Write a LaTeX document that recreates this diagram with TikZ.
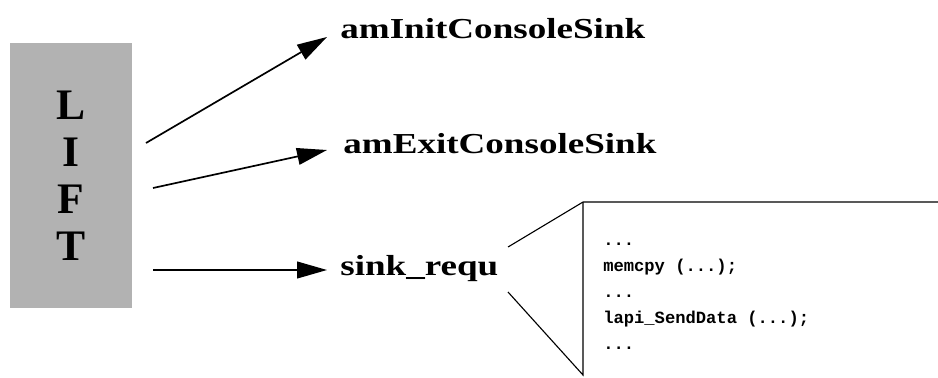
\documentclass[tikz,border=0pt]{standalone}
\usepackage{fontspec}
\setmainfont{Liberation Serif}
\setmonofont{Liberation Mono}
\usetikzlibrary{arrows.meta}
\tikzset{
	liftbox/.style={fill=black!30, minimum width=3.05cm, minimum height=6.625cm, inner sep=0pt, align=center, font=\fontsize{31}{33.4}\selectfont\bfseries},
	fname/.style={anchor=base west, inner sep=0pt, xscale=1.28, font=\fontsize{20.6}{24}\selectfont\bfseries},
	codeline/.style={anchor=base west, inner sep=0pt, font=\fontsize{12.2}{14}\selectfont\ttfamily\bfseries},
	call/.style={line width=1.2pt, -{Triangle[length=0.75cm,width=0.42cm]}},
}

\begin{document}
\begin{tikzpicture}
			%%%%% START %%%%%
			\useasboundingbox (0, 0) rectangle (23.45, 9.425);
			
			\node[liftbox] (lift) at (1.775, 5.04) {L\\I\\F\\T};
			
			\node[fname] (init) at (8.5, 8.475) {amInitConsoleSink};
			\node[fname] (exit) at (8.575, 5.6) {amExitConsoleSink};
			\node[fname] (sink) at (8.5, 2.55) {sink\_requ};
			
			\coordinate (s1) at (3.65, 5.85);
			\coordinate (s2) at (3.825, 4.725);
			\coordinate (s3) at (3.825, 2.675);
			\draw[call] (s1) -- ([xshift=-0.325cm, yshift=0.025cm]init.base west);
			\draw[call] (s2) -- ([xshift=-0.4cm, yshift=0.075cm]exit.base west);
			\draw[call] (s3) -- ([xshift=-0.325cm, yshift=0.125cm]sink.base west);
			
			\draw[line width=0.8pt] (12.7, 3.25) -- (14.575, 4.375) -- (23.45, 4.375);
			\draw[line width=0.8pt] (14.575, 4.375) -- (14.575, 0.05) -- (12.7, 2.125);
			
			\node[codeline] (c1) at (15.075, 3.3) {...};
			\node[codeline] (c2) at (15.075, 2.65) {memcpy (...);};
			\node[codeline] (c3) at (15.075, 2.0) {...};
			\node[codeline] (c4) at (15.075, 1.35) {lapi\_SendData (...);};
			\node[codeline] (c5) at (15.075, 0.7) {...};
			
			%%%%% END %%%%%
\end{tikzpicture}
\end{document}
